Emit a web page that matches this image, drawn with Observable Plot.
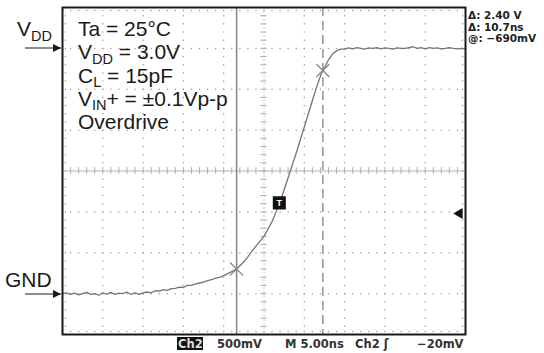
<!DOCTYPE html>
<html>
<head>
<meta charset="utf-8">
<script src="https://cdn.jsdelivr.net/npm/d3@7"></script>
<script src="https://cdn.jsdelivr.net/npm/@observablehq/plot@0.6"></script>
<style>
  html, body { margin: 0; padding: 0; background: #fff; }
  #chart { width: 544px; height: 353px; }
</style>
</head>
<body>
<div id="chart"></div>
<script>
// ---- Data (time in ns, level in V) ----
const traceTime = [
  0, 0.5, 1, 1.5, 2, 2.5, 3, 3.5, 4, 4.5, 5, 5.5, 6, 6.5, 7, 7.5, 8, 8.5, 9, 9.5,
  10, 10.5, 11, 11.5, 12, 12.5, 13, 13.5, 14, 14.5, 15, 15.5, 16, 16.5, 17, 17.5,
  18, 18.5, 19, 19.5, 20, 20.5, 21, 21.6, 22, 22.5, 23, 23.5, 24, 24.5, 25, 25.5,
  26, 26.5, 27, 27.5, 28, 28.5, 29, 29.5, 30, 30.5, 31, 31.5, 32, 32.3, 32.7, 33,
  33.5, 34, 34.5, 35, 35.5, 36, 36.5, 37, 37.5, 38, 38.5, 39, 39.5, 40, 40.5, 41,
  41.5, 42, 42.5, 43, 43.5, 44, 44.5, 45, 45.5, 46, 46.5, 47, 47.5, 48, 48.5, 49,
  49.5, 50
];
const traceVolt = [
  0.00, 0.01, -0.01, 0.005, -0.015, 0.00, 0.015, -0.01, 0.00, -0.02, 0.01, -0.005, 0.015, -0.01, 0.005, 0.00, 0.02, -0.01, 0.01, -0.01,
  0.01, 0.02, 0.01, 0.035, 0.03, 0.05, 0.04, 0.06, 0.065, 0.08, 0.075, 0.10, 0.10, 0.12, 0.13, 0.14,
  0.16, 0.17, 0.19, 0.20, 0.22, 0.245, 0.27, 0.30, 0.34, 0.39, 0.45, 0.52, 0.58, 0.64, 0.70, 0.79,
  0.88, 1.00, 1.12, 1.27, 1.42, 1.57, 1.72, 1.88, 2.04, 2.20, 2.36, 2.52, 2.66, 2.73, 2.80, 2.86,
  2.93, 2.97, 2.99, 2.99, 3.005, 2.995, 3.01, 3.00, 2.99, 3.005, 3.00, 3.01, 2.995, 3.005, 3.00, 2.99,
  3.005, 3.00, 3.00, 3.01, 3.02, 3.00, 3.01, 2.995, 3.01, 3.00, 3.005, 2.995, 3.00, 3.01, 3.00, 2.995,
  3.00, 2.995
];

// Cursors (ns, V) and markers
const cursorTimes = [21.6, 32.3];
const cursorLevels = [0.30, 2.73];
const triggerPoint = {t: 26.9, v: 1.11};
const triggerLevel = 0.98;

// Scope settings and readouts
const conditionLines = [
  {main: "Ta = 25°C", sub: "", rest: ""},
  {main: "V", sub: "DD", rest: " = 3.0V"},
  {main: "C", sub: "L", rest: " = 15pF"},
  {main: "V", sub: "IN", rest: "+ = ±0.1Vp-p"},
  {main: "Overdrive", sub: "", rest: ""}
];
const readouts = ["Δ: 2.40 V", "Δ: 10.7ns", "@: −690mV"];
const bottomLabels = [
  {text: "500mV", x: 217},
  {text: "M 5.00ns", x: 285},
  {text: "Ch2 \u0283", x: 355},
  {text: "−20mV", x: 417}
];

// Grid (10 x 8 divisions: 5 ns/div, 0.5 V/div)
const xMajor = d3.range(5, 50, 5);
const yMajor = d3.range(0, 3.5, 0.5);
const xMinor = d3.range(0, 50.001, 1);
const yMinor = d3.range(-0.5, 3.5001, 0.1);

const trace = traceTime.map((t, i) => ({t, v: traceVolt[i]}));
const gridDots = [];
for (const x of xMajor) for (const y of yMinor) if (x !== 25) gridDots.push({x, y});
for (const y of yMajor) for (const x of xMinor) if (Math.abs(y - 1.5) > 1e-6) gridDots.push({x, y});
const edgeDots = [];
for (const x of xMinor) { edgeDots.push({x, y: -0.5, dy: -3}); edgeDots.push({x, y: 3.5, dy: 3}); }
for (const y of yMinor) { edgeDots.push({x: 0, y, dx: 3}); edgeDots.push({x: 50, y, dx: -3}); }

const chart = Plot.plot({
  width: 544,
  height: 353,
  marginLeft: 62,
  marginRight: 79,
  marginTop: 7,
  marginBottom: 19,
  x: {domain: [0, 50], axis: null},
  y: {domain: [-0.5, 3.5], axis: null},
  style: {background: "#fff", fontFamily: "Liberation Sans, Arial, sans-serif"},
  marks: [
    Plot.dot(gridDots, {x: "x", y: "y", r: 0.75, fill: "#9a9a9a", stroke: null}),
    Plot.dot(edgeDots.filter(d => d.dy === -3), {x: "x", y: "y", dy: -3, r: 0.75, fill: "#9a9a9a", stroke: null}),
    Plot.dot(edgeDots.filter(d => d.dy === 3), {x: "x", y: "y", dy: 3, r: 0.75, fill: "#9a9a9a", stroke: null}),
    Plot.dot(edgeDots.filter(d => d.dx === 3), {x: "x", y: "y", dx: 3, r: 0.75, fill: "#9a9a9a", stroke: null}),
    Plot.dot(edgeDots.filter(d => d.dx === -3), {x: "x", y: "y", dx: -3, r: 0.75, fill: "#9a9a9a", stroke: null}),
    // centre cross lines with sub-division ticks
    Plot.ruleY([1.5], {stroke: "#b5b5b5", strokeWidth: 1}),
    Plot.ruleX(xMinor, {x: d => d, y1: 1.46, y2: 1.54, stroke: "#b0b0b0", strokeWidth: 1}),
    Plot.ruleX([25], {stroke: "#c4c4c4", strokeWidth: 1, strokeDasharray: "2,2"}),
    Plot.ruleY(yMinor, {y: d => d, x1: 24.6, x2: 25.4, stroke: "#b0b0b0", strokeWidth: 1}),
    // cursors
    Plot.ruleX([cursorTimes[0]], {stroke: "#8a8a8a", strokeWidth: 1.6}),
    Plot.ruleX([cursorTimes[1]], {stroke: "#9a9a9a", strokeWidth: 1.6, strokeDasharray: "9,5"}),
    // trace
    Plot.line(trace, {x: "t", y: "v", stroke: "#747474", strokeWidth: 1.3, curve: "linear"}),
    // cursor crossing markers
    Plot.dot(cursorTimes.map((t, i) => ({t, v: cursorLevels[i]})), {x: "t", y: "v", symbol: "times", r: 6, stroke: "#8a8a8a", strokeWidth: 1.3}),
    // trigger marker
    Plot.dot([triggerPoint], {x: "t", y: "v", symbol: "square", r: 6.5, fill: "#111", stroke: "#111"}),
    Plot.text([triggerPoint], {x: "t", y: "v", text: () => "T", fill: "#fff", fontSize: 9, fontWeight: "bold", dy: 0.5}),
    // trigger level arrow on the right
    Plot.dot([triggerLevel], {x: () => 50, y: d => d, dx: -6, symbol: "triangle", rotate: -90, r: 4, fill: "#111", stroke: null}),
    // frame
    Plot.frame({stroke: "#1a1a1a", strokeWidth: 2})
  ]
});

document.getElementById("chart").appendChild(chart);

// ---- Text annotations ----
const svg = d3.select(chart);
const ann = svg.append("g").attr("fill", "#1a1a1a").attr("text-anchor", "start")
  .attr("font-family", "Liberation Sans, Arial, sans-serif");

const big = 21, small = 14.5;
conditionLines.forEach((l, i) => {
  const t = ann.append("text").attr("x", 78).attr("y", 36 + i * 23.3).attr("font-size", big);
  t.append("tspan").text(l.main);
  if (l.sub) {
    t.append("tspan").attr("font-size", small).attr("dy", 4.5).text(l.sub);
    t.append("tspan").attr("dy", -4.5).text(l.rest);
  }
});

// VDD / GND labels with arrows
const vdd = ann.append("text").attr("x", 17).attr("y", 36).attr("font-size", big);
vdd.append("tspan").text("V");
vdd.append("tspan").attr("font-size", small).attr("dy", 5).text("DD");
ann.append("text").attr("x", 5).attr("y", 287).attr("font-size", big).text("GND");

svg.append("defs").append("marker")
  .attr("id", "ah").attr("viewBox", "0 0 10 10").attr("refX", 10).attr("refY", 5)
  .attr("markerWidth", 8).attr("markerHeight", 8).attr("markerUnits", "userSpaceOnUse").attr("orient", "auto")
  .append("path").attr("d", "M0,0 L10,5 L0,10 z").attr("fill", "#1a1a1a");
[48, 294].forEach(y => {
  svg.append("line").attr("x1", 25).attr("x2", 61).attr("y1", y).attr("y2", y)
    .attr("stroke", "#1a1a1a").attr("stroke-width", 1.2).attr("marker-end", "url(#ah)");
});

// readouts top right
const ro = svg.append("g").attr("font-family", "DejaVu Sans, sans-serif").attr("font-weight", "bold")
  .attr("text-anchor", "start").attr("font-size", 10.5).attr("fill", "#222");
readouts.forEach((r, i) => ro.append("text").attr("x", 468).attr("y", 19 + i * 11.5).text(r));

// bottom status bar
const bb = svg.append("g").attr("font-family", "DejaVu Sans, sans-serif").attr("font-weight", "bold")
  .attr("text-anchor", "start").attr("font-size", 11.5).attr("fill", "#333");
bb.append("rect").attr("x", 177).attr("y", 337).attr("width", 26).attr("height", 13).attr("fill", "#111");
bb.append("text").attr("x", 178).attr("y", 348).attr("fill", "#ddd").text("Ch2");
bottomLabels.forEach(l => bb.append("text").attr("x", l.x).attr("y", 348).text(l.text));
</script>
</body>
</html>
